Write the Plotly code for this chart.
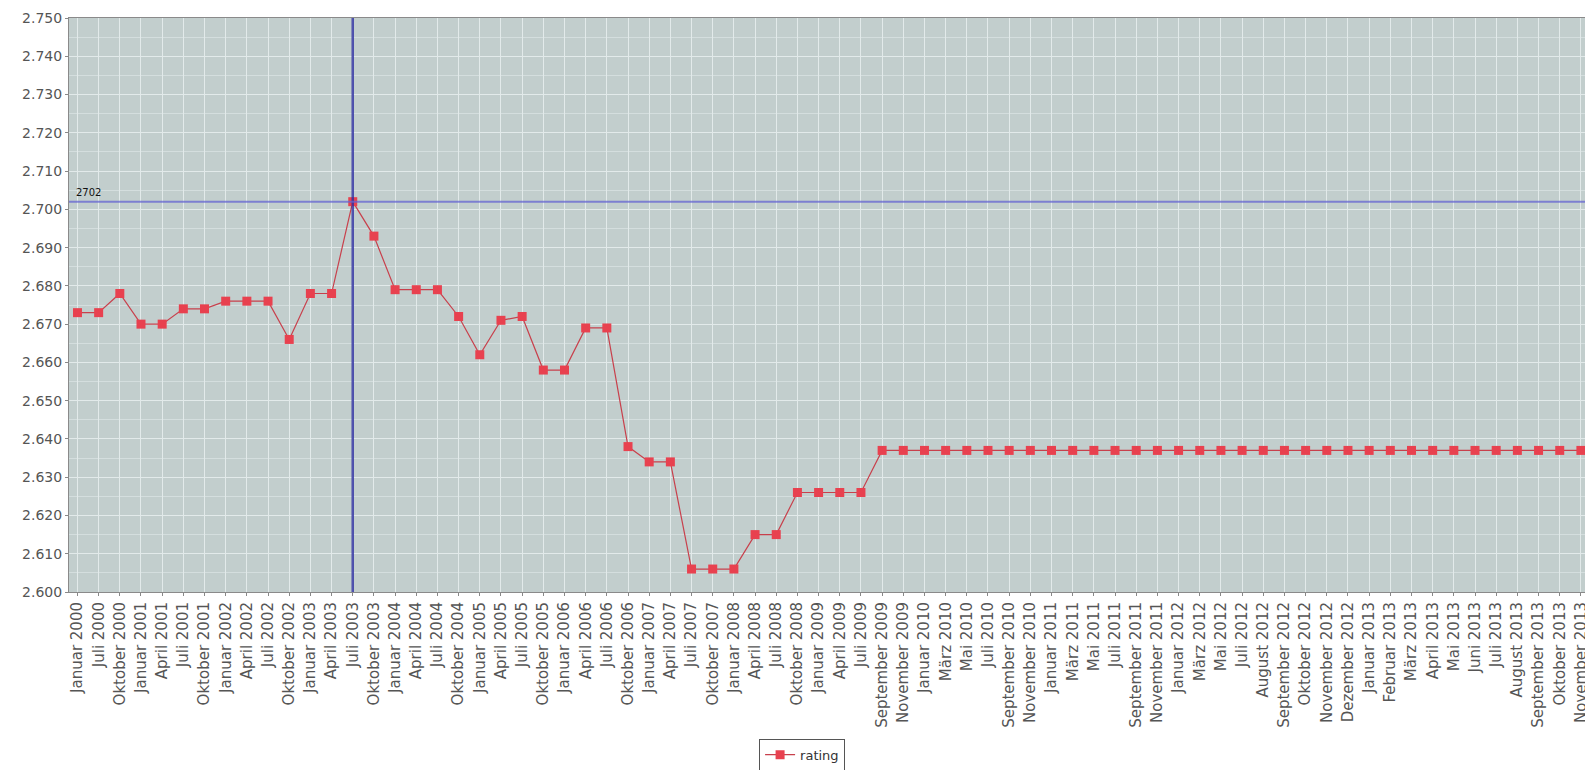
import plotly.graph_objects as go

months = [
    "Januar 2000", "Juli 2000", "Oktober 2000", "Januar 2001", "April 2001", "Juli 2001",
    "Oktober 2001", "Januar 2002", "April 2002", "Juli 2002", "Oktober 2002", "Januar 2003",
    "April 2003", "Juli 2003", "Oktober 2003", "Januar 2004", "April 2004", "Juli 2004",
    "Oktober 2004", "Januar 2005", "April 2005", "Juli 2005", "Oktober 2005", "Januar 2006",
    "April 2006", "Juli 2006", "Oktober 2006", "Januar 2007", "April 2007", "Juli 2007",
    "Oktober 2007", "Januar 2008", "April 2008", "Juli 2008", "Oktober 2008", "Januar 2009",
    "April 2009", "Juli 2009", "September 2009", "November 2009", "Januar 2010", "März 2010",
    "Mai 2010", "Juli 2010", "September 2010", "November 2010", "Januar 2011", "März 2011",
    "Mai 2011", "Juli 2011", "September 2011", "November 2011", "Januar 2012", "März 2012",
    "Mai 2012", "Juli 2012", "August 2012", "September 2012", "Oktober 2012", "November 2012",
    "Dezember 2012", "Januar 2013", "Februar 2013", "März 2013", "April 2013", "Mai 2013",
    "Juni 2013", "Juli 2013", "August 2013", "September 2013", "Oktober 2013", "November 2013",
]

rating = [
    2673, 2673, 2678, 2670, 2670, 2674,
    2674, 2676, 2676, 2676, 2666, 2678,
    2678, 2702, 2693, 2679, 2679, 2679,
    2672, 2662, 2671, 2672, 2658, 2658,
    2669, 2669, 2638, 2634, 2634, 2606,
    2606, 2606, 2615, 2615, 2626, 2626,
    2626, 2626, 2637, 2637, 2637, 2637,
    2637, 2637, 2637, 2637, 2637, 2637,
    2637, 2637, 2637, 2637, 2637, 2637,
    2637, 2637, 2637, 2637, 2637, 2637,
    2637, 2637, 2637, 2637, 2637, 2637,
    2637, 2637, 2637, 2637, 2637, 2637,
]

crosshair_month = "Juli 2003"
crosshair_value = 2702
y_range = [2600, 2750]

fig = go.Figure()
fig.add_trace(go.Scatter(
    x=months, y=rating, mode="lines+markers", name="rating",
    line=dict(color="#c8404c", width=1.2),
    marker=dict(symbol="square", size=9, color="#e8414f", line=dict(width=0)),
))

# crosshair
fig.add_shape(type="line", xref="x", yref="paper", x0=crosshair_month, x1=crosshair_month,
              y0=0, y1=1, line=dict(color="rgba(45,45,160,0.8)", width=2.5), layer="above")
fig.add_shape(type="line", xref="paper", yref="y", x0=0, x1=1,
              y0=crosshair_value, y1=crosshair_value,
              line=dict(color="rgba(100,100,210,0.75)", width=2), layer="above")
fig.add_annotation(xref="paper", yref="y", x=0.003, y=crosshair_value, text=str(crosshair_value),
                   showarrow=False, xanchor="left", yanchor="bottom", yshift=2,
                   font=dict(size=10, color="#111", family="DejaVu Sans"))

fig.update_layout(
    width=1585, height=762,
    margin=dict(l=61, r=3, t=10, b=178, autoexpand=False),
    paper_bgcolor="white",
    plot_bgcolor="#c2cecd",
    separators=",.",
    font=dict(family="DejaVu Sans", color="#444"),
    showlegend=True,
    legend=dict(orientation="h", xref="container", yref="container", x=0.501, y=0.02,
                xanchor="center", yanchor="middle", bgcolor="white",
                bordercolor="#555", borderwidth=1, font=dict(size=13, color="#333"),
                itemwidth=30),
)
fig.update_xaxes(
    type="category", range=[-0.4, len(months) - 0.57], automargin=False,
    tickangle=-90, tickfont=dict(size=15, color="#555"),
    showgrid=True, gridcolor="#e2eaea", gridwidth=1,
    showline=True, linecolor="#8a8a8a", mirror=True,
    ticks="outside", ticklen=3, tickcolor="#888",
)
fig.update_yaxes(
    range=y_range, dtick=10, tickformat=",d", automargin=False,
    tickfont=dict(size=14, color="#555"),
    showgrid=True, gridcolor="#e2eaea", gridwidth=1,
    minor=dict(dtick=5, showgrid=True, gridcolor="#d4dede", gridwidth=1),
    showline=True, linecolor="#8a8a8a", mirror=True,
    ticks="outside", ticklen=3, tickcolor="#888",
    zeroline=False,
)

fig.write_html("out.html")
